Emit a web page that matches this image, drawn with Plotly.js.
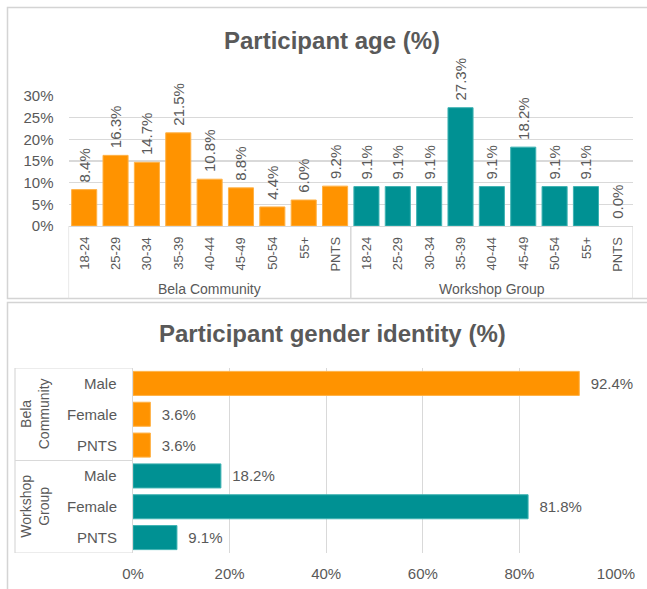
<!DOCTYPE html>
<html>
<head>
<meta charset="utf-8">
<script src="https://cdn.plot.ly/plotly-3.0.1.min.js"></script>
<style>
html,body{margin:0;padding:0;background:#fff;}
#chart{width:647px;height:589px;}
</style>
</head>
<body>
<div id="chart"></div>
<script>
// ---- data ----
var groups = ['Bela Community', 'Workshop Group'];
var ageCategories = ['18-24', '25-29', '30-34', '35-39', '40-44', '45-49', '50-54', '55+', 'PNTS'];
var belaAge = [8.4, 16.3, 14.7, 21.5, 10.8, 8.8, 4.4, 6.0, 9.2];
var workshopAge = [9.1, 9.1, 9.1, 27.3, 9.1, 18.2, 9.1, 9.1, 0.0];
var genderCategories = ['Male', 'Female', 'PNTS'];
var belaGender = [92.4, 3.6, 3.6];
var workshopGender = [18.2, 81.8, 9.1];
var genderGroupLabels = ['Bela<br>Community', 'Workshop<br>Group'];
var ageTicks = [0, 5, 10, 15, 20, 25, 30];
var genderTicks = [0, 20, 40, 60, 80, 100];

// ---- style ----
var W = 647, H = 589;
var ORANGE = '#FF9300', TEAL = '#009193';
var TXT = '#595959', GRID = '#d9d9d9', FRAME = '#d4d4d4';
var FONT = 'Liberation Sans, Arial, sans-serif';
function px(x) { return x / W; }
function py(y) { return 1 - y / H; }

var nA = ageCategories.length;
var belaX = ageCategories.map(function (c, i) { return i; });
var workX = ageCategories.map(function (c, i) { return i + nA; });
var nG = genderCategories.length;
var belaY = genderCategories.map(function (c, i) { return i; });
var workY = genderCategories.map(function (c, i) { return i + nG; });

function edgeWidths(vals) { return vals.map(function (v) { return v > 0 ? 1 : 0; }); }

function ageBar(x, y, color, edge) {
  return {
    type: 'bar', x: x, y: y, xaxis: 'x', yaxis: 'y', width: 0.8,
    marker: { color: color, line: { color: edge, width: edgeWidths(y) } },
    texttemplate: '\u00a0%{y:.1f}%', textposition: 'outside', textangle: -90,
    textfont: { family: FONT, size: 15, color: TXT },
    constraintext: 'none', cliponaxis: false, hoverinfo: 'skip', showlegend: false
  };
}
function genderBar(x, y, color, edge) {
  return {
    type: 'bar', orientation: 'h', x: x, y: y, xaxis: 'x2', yaxis: 'y2', width: 0.78,
    marker: { color: color, line: { color: edge, width: edgeWidths(x) } },
    texttemplate: '\u00a0\u00a0%{x:.1f}%', textposition: 'outside', textangle: 0,
    textfont: { family: FONT, size: 15, color: TXT },
    constraintext: 'none', cliponaxis: false, hoverinfo: 'skip', showlegend: false
  };
}

var data = [
  ageBar(belaX, belaAge, ORANGE, '#ffb247'),
  ageBar(workX, workshopAge, TEAL, '#3fb3b3'),
  genderBar(belaGender, belaY, ORANGE, '#ffb247'),
  genderBar(workshopGender, workY, TEAL, '#3fb3b3')
];

var annotations = [];
var shapes = [];

// titles
annotations.push({ xref: 'paper', yref: 'paper', x: px(332), y: py(41), xanchor: 'center', yanchor: 'middle',
  text: '<b>Participant age (%)</b>', showarrow: false, font: { family: FONT, size: 24, color: TXT } });
annotations.push({ xref: 'paper', yref: 'paper', x: px(332), y: py(333), xanchor: 'center', yanchor: 'middle',
  text: '<b>Participant gender identity (%)</b>', showarrow: false, font: { family: FONT, size: 24, color: TXT } });

// frames
shapes.push({ type: 'rect', xref: 'paper', yref: 'paper', x0: px(7.5), x1: px(700), y0: py(7.5), y1: py(298.5),
  line: { color: FRAME, width: 1.5 } });
shapes.push({ type: 'rect', xref: 'paper', yref: 'paper', x0: px(7.5), x1: px(700), y0: py(302.5), y1: py(650),
  line: { color: FRAME, width: 1.5 } });

// top chart: category labels, group labels, dividers
var allAgeX = belaX.concat(workX);
var allAgeLabels = ageCategories.concat(ageCategories);
allAgeX.forEach(function (x, i) {
  annotations.push({ xref: 'x', yref: 'paper', x: x, y: py(235), xanchor: 'center', yanchor: 'top',
    text: allAgeLabels[i], textangle: -90, showarrow: false, font: { family: FONT, size: 13, color: TXT } });
});
groups.forEach(function (g, gi) {
  var start = gi * nA, end = start + nA - 1;
  annotations.push({ xref: 'x', yref: 'paper', x: (start + end) / 2, y: py(289), xanchor: 'center', yanchor: 'middle',
    text: g, showarrow: false, font: { family: FONT, size: 14, color: TXT } });
  [start - 0.5, end + 0.5].forEach(function (b) {
    shapes.push({ type: 'line', xref: 'x', yref: 'paper', x0: b, x1: b, y0: py(226), y1: py(298.5),
      line: { color: GRID, width: 1.2 } });
  });
});

// bottom chart: category labels, group labels, box lines
var allGenderY = belaY.concat(workY);
var allGenderLabels = genderCategories.concat(genderCategories);
allGenderY.forEach(function (y, i) {
  annotations.push({ xref: 'paper', yref: 'y2', x: px(119), y: y, xanchor: 'right', yanchor: 'middle',
    text: allGenderLabels[i], showarrow: false, font: { family: FONT, size: 15, color: TXT } });
});
genderGroupLabels.forEach(function (g, gi) {
  var start = gi * nG, end = start + nG - 1;
  annotations.push({ xref: 'paper', yref: 'y2', x: px(35), y: (start + end) / 2, xanchor: 'center', yanchor: 'middle',
    text: g, textangle: -90, showarrow: false, font: { family: FONT, size: 14, color: TXT } });
  [start - 0.5, end + 0.5].forEach(function (b) {
    shapes.push({ type: 'line', xref: 'paper', yref: 'y2', x0: px(15), x1: px(133), y0: b, y1: b,
      line: { color: GRID, width: 1.2 } });
  });
});
shapes.push({ type: 'line', xref: 'paper', yref: 'y2', x0: px(15), x1: px(15), y0: -0.5, y1: 2 * nG - 0.5,
  line: { color: GRID, width: 1.2 } });

var layout = {
  width: W, height: H,
  margin: { l: 0, r: 0, t: 0, b: 0 },
  paper_bgcolor: '#fff', plot_bgcolor: '#fff',
  barmode: 'overlay',
  showlegend: false,
  font: { family: FONT, color: TXT },
  xaxis: {
    domain: [px(68.5), px(633)], range: [-0.5, 2 * nA - 0.5], showticklabels: false,
    showgrid: false, zeroline: false, showline: true, linecolor: GRID, linewidth: 1.2, fixedrange: true
  },
  yaxis: {
    domain: [py(226), py(96)], range: [0, 30], tickvals: ageTicks, ticktext: ageTicks.map(function (t) { return t + '%'; }),
    showgrid: true, gridcolor: GRID, gridwidth: 1.2, zeroline: false, showline: false,
    ticks: '', ticklabelstandoff: 14, tickfont: { family: FONT, size: 15, color: TXT }, fixedrange: true
  },
  xaxis2: {
    domain: [px(133), px(616)], range: [0, 100], anchor: 'y2', tickvals: genderTicks,
    ticktext: genderTicks.map(function (t) { return t + '%'; }),
    showgrid: true, gridcolor: GRID, gridwidth: 1.2, zeroline: false, showline: false,
    ticks: '', ticklabelstandoff: 10, tickfont: { family: FONT, size: 15, color: TXT }, fixedrange: true
  },
  yaxis2: {
    domain: [py(553), py(368)], range: [2 * nG - 0.5, -0.5], anchor: 'x2', showticklabels: false,
    showgrid: false, zeroline: false, showline: true, linecolor: GRID, linewidth: 1.2, fixedrange: true
  },
  annotations: annotations,
  shapes: shapes
};

Plotly.newPlot('chart', data, layout, { staticPlot: true, displayModeBar: false });
</script>
</body>
</html>
